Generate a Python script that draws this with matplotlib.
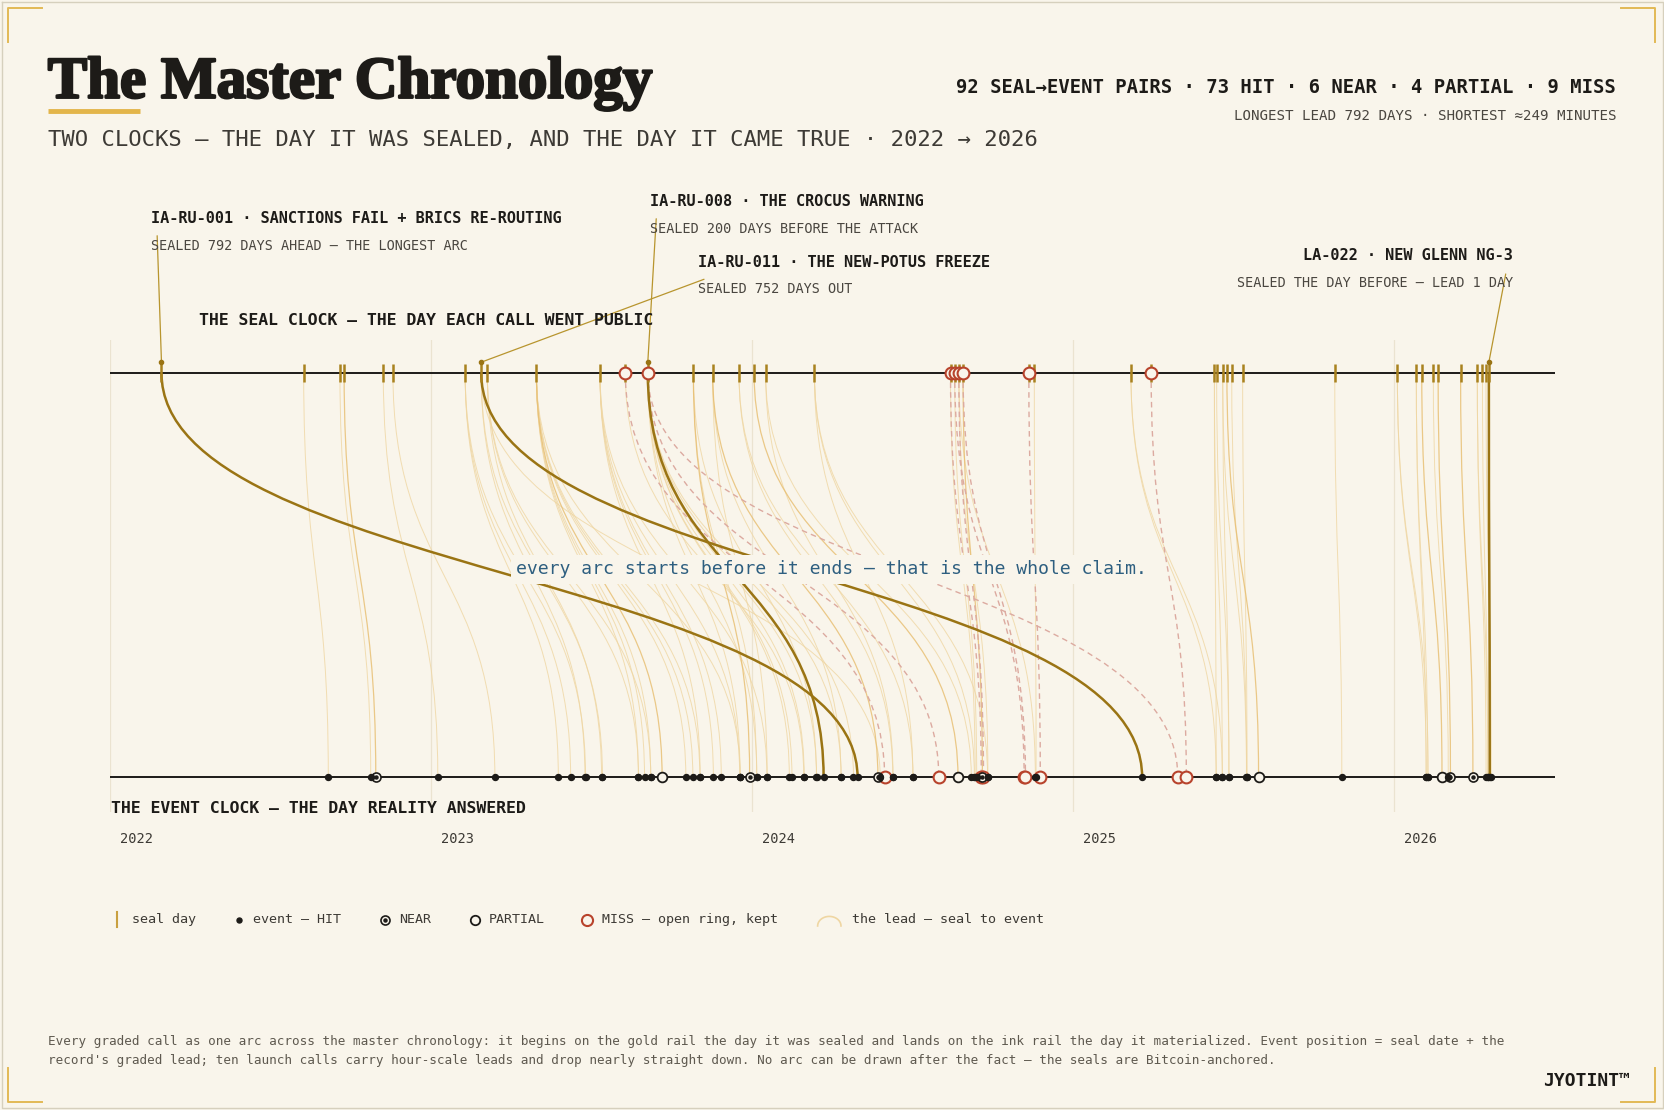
import numpy as np
import matplotlib.pyplot as plt
from matplotlib.path import Path
from matplotlib.patches import PathPatch
import matplotlib.patheffects as pe

# ---- data: one entry per seal->event pair (seal date as decimal year, graded lead in days)
seal_date = [2022.159, 2022.602, 2022.715, 2022.728, 2022.850, 2022.880,
             2023.105, 2023.105, 2023.105,
             2023.155, 2023.155, 2023.155, 2023.155,
             2023.174, 2023.174, 2023.174,
             2023.327, 2023.327, 2023.327, 2023.327, 2023.327, 2023.327, 2023.327, 2023.327,
             2023.525, 2023.525, 2023.525, 2023.525, 2023.525,
             2023.604, 2023.604,
             2023.674, 2023.674, 2023.674, 2023.674, 2023.674, 2023.674, 2023.674, 2023.674,
             2023.674, 2023.674, 2023.674,
             2023.816, 2023.816, 2023.816,
             2023.876, 2023.876, 2023.876,
             2023.958, 2023.958,
             2024.005,
             2024.041, 2024.041,
             2024.193, 2024.193, 2024.193,
             2024.617, 2024.617,
             2024.630, 2024.630,
             2024.643, 2024.643, 2024.643,
             2024.656, 2024.656,
             2024.861, 2024.878,
             2025.179, 2025.179,
             2025.242,
             2025.439, 2025.439, 2025.446, 2025.465, 2025.465, 2025.478, 2025.493, 2025.527,
             2025.814,
             2026.009, 2026.009, 2026.068, 2026.068, 2026.085, 2026.121, 2026.136, 2026.206,
             2026.258, 2026.258, 2026.274, 2026.285, 2026.294]
lead_days = [792, 28, 35, 36, 62, 116,
             106, 120, 137,
             752, 118, 454, 138,
             130, 172, 186,
             123, 130, 143, 170, 178, 232, 186, 116,
             114, 129, 138, 159, 190,
             295, 203,
             200, 161, 164, 178, 192, 220, 234, 331,
             603, 124, 105,
             64, 72, 140,
             62, 188, 146,
             175, 198,
             232,
             234, 145,
             182, 197, 112,
             35, 28,
             79, 25,
             28, 87, 33,
             71, 22,
             13, 2,
             97, 104,
             40,
             9, 2, 14, 27, 7, 36, 17, 5,
             8,
             33, 35, 13, 11, 23, 17, 14, 14,
             10, 12, 6, 6, 1]
grade = list("HHHNHH" "HHH" "HHHH" "HHH" "HHPHHHHH" "HHHHH" "MH"
             "HHHHHHHM" "MHH" "NHH" "HNH" "HH" "P" "HH" "HHH" "MH" "MH"
             "MHH" "MN" "MH" "HH" "M" "HHHHHPHH" "H" "HHHHPHNN" "HHHHH")

years = [2022, 2023, 2024, 2025, 2026]

callout_seal = [2022.159, 2023.674, 2023.155, 2026.294]
callout_lead = [792, 200, 752, 1]
callout_title = ["IA-RU-001 · SANCTIONS FAIL + BRICS RE-ROUTING",
                 "IA-RU-008 · THE CROCUS WARNING",
                 "IA-RU-011 · THE NEW-POTUS FREEZE",
                 "LA-022 · NEW GLENN NG-3"]
callout_sub = ["SEALED 792 DAYS AHEAD — THE LONGEST ARC",
               "SEALED 200 DAYS BEFORE THE ATTACK",
               "SEALED 752 DAYS OUT",
               "SEALED THE DAY BEFORE — LEAD 1 DAY"]

# ---- style
BG = "#f9f5eb"
INK = "#1d1b18"
GOLD = "#a9821f"
GOLD_DARK = "#9a7414"
ARC = "#efd6a2"
ARC_MID = "#e7bd6e"
RED = "#b8432c"
MISS_ARC = "#dcaaa0"
GRID = "#ebe3d0"
MONO = "DejaVu Sans Mono"

VW, VH = 1568.0, 1045.3


def fx(px):
    return px / VW


def fy(py):
    return 1 - py / VH


seal = np.array(seal_date)
lead = np.array(lead_days, dtype=float)
grade = np.array(grade)
event = seal + lead / 365.25

fig = plt.figure(figsize=(16.65, 11.10), dpi=100, facecolor=BG)

# decoration canvas in pixel-like coordinates
cv = fig.add_axes([0, 0, 1, 1])
cv.set_xlim(0, VW)
cv.set_ylim(VH, 0)
cv.axis("off")
cv.plot([1.5, VW - 1.5, VW - 1.5, 1.5, 1.5], [1.5, 1.5, VH - 1.5, VH - 1.5, 1.5],
        color="#d6d0bd", lw=1.0)
cc = "#e2b955"
L = 32
for x0, y0, dx, dy in [(8, 8, 1, 1), (VW - 9, 8, -1, 1), (8, VH - 8, 1, -1), (VW - 9, VH - 8, -1, -1)]:
    cv.plot([x0 + dx * L, x0, x0], [y0, y0, y0 + dy * L], color=cc, lw=1.4)

# title block
fig.text(fx(45), fy(92), "The Master Chronology", fontsize=42.5, fontweight="bold",
         family="Liberation Serif", color=INK,
         path_effects=[pe.withStroke(linewidth=1.8, foreground=INK)])
cv.plot([45, 132], [105, 105], color="#e3b54a", lw=3.5, solid_capstyle="butt")
fig.text(fx(45), fy(132), "TWO CLOCKS — THE DAY IT WAS SEALED, AND THE DAY IT CAME TRUE · 2022 → 2026",
         fontsize=16.0, family=MONO, color="#3d3a35", va="center")
n_pairs = len(seal)
stats = "%d SEAL→EVENT PAIRS · %d HIT · %d NEAR · %d PARTIAL · %d MISS" % (
    n_pairs, (grade == "H").sum(), (grade == "N").sum(), (grade == "P").sum(), (grade == "M").sum())
fig.text(fx(1522), fy(82), stats, fontsize=13.6, family=MONO, fontweight="bold",
         color=INK, ha="right", va="center")
fig.text(fx(1522), fy(109), "LONGEST LEAD %d DAYS · SHORTEST ≈249 MINUTES" % lead.max(),
         fontsize=10.15, family=MONO, color="#4a4640", ha="right", va="center")

# chart axes: x in years, event rail y=0, seal rail y=1
ax = fig.add_axes([fx(104), fy(765), fx(1464.4) - fx(104), fy(320) - fy(765)])
ax.set_xlim(2022, 2026.5)
ax.set_ylim(-(765 - 732) / 381, 1 + (351 - 320) / 381)
ax.axis("off")

for yr in years:
    ax.axvline(yr, color=GRID, lw=0.9, zorder=0)
    ax.text(yr + 9 / 302.3, -(790 - 732) / 381, str(yr), fontsize=9.8, family=MONO,
            color="#3d3a35", va="center", clip_on=False)

ax.plot([2022, 2026.5], [1, 1], color=INK, lw=1.4, zorder=4, solid_capstyle="butt")
ax.plot([2022, 2026.5], [0, 0], color=INK, lw=1.4, zorder=4, solid_capstyle="butt")


def arc(xs, xe):
    return Path([(xs, 1), (xs, 0.5), (xe, 0.5), (xe, 0)],
                [Path.MOVETO, Path.CURVE4, Path.CURVE4, Path.CURVE4])


is_callout = np.zeros(n_pairs, dtype=bool)
for cs, cl in zip(callout_seal, callout_lead):
    is_callout |= (np.isclose(seal, cs) & (lead == cl))

for i in range(n_pairs):
    p = arc(seal[i], event[i])
    if is_callout[i]:
        patch = PathPatch(p, fc="none", ec=GOLD_DARK, lw=1.8, zorder=3)
    elif grade[i] == "M":
        patch = PathPatch(p, fc="none", ec=MISS_ARC, lw=1.0, ls=(0, (4, 3)), zorder=2.6)
    elif grade[i] in ("N", "P"):
        patch = PathPatch(p, fc="none", ec=ARC_MID, lw=0.9, alpha=0.8, zorder=2.4)
    else:
        patch = PathPatch(p, fc="none", ec=ARC, lw=0.7, alpha=0.8, zorder=2.2)
    ax.add_patch(patch)

# seal rail marks
useal = np.unique(seal)
ax.vlines(useal, 1 - 0.022, 1 + 0.022, color=GOLD, lw=1.8, zorder=5)
miss_seal = np.unique(seal[grade == "M"])
ax.plot(miss_seal, np.ones(len(miss_seal)), "o", ms=8.5, mfc=BG, mec=RED, mew=1.5, zorder=6, ls="none")

# event rail marks
ev_m = event[grade == "M"]
ev_p = event[grade == "P"]
ev_n = event[grade == "N"]
ev_h = event[grade == "H"]
ax.plot(ev_m, np.zeros(len(ev_m)), "o", ms=8.5, mfc=BG, mec=RED, mew=1.5, zorder=6, ls="none")
ax.plot(ev_p, np.zeros(len(ev_p)), "o", ms=7, mfc=BG, mec=INK, mew=1.3, zorder=7, ls="none")
ax.plot(ev_n, np.zeros(len(ev_n)), "o", ms=6.5, mfc=BG, mec=INK, mew=1.2, zorder=7, ls="none")
ax.plot(ev_n, np.zeros(len(ev_n)), "o", ms=2.2, color=INK, zorder=8, ls="none")
ax.plot(ev_h, np.zeros(len(ev_h)), "o", ms=4.3, color=INK, zorder=8, ls="none")

# claim
ax.text(2022 + (783 - 104) / 302.3, (732 - 536) / 381,
        "every arc starts before it ends — that is the whole claim.",
        fontsize=13.05, family=MONO, color="#2e5f80", ha="center", va="center", zorder=3.5,
        bbox=dict(boxstyle="square,pad=0.3", fc=BG, ec="none"))

# rail labels
fig.text(fx(187), fy(302), "THE SEAL CLOCK — THE DAY EACH CALL WENT PUBLIC", fontsize=11.85,
         family=MONO, fontweight="bold", color=INK, va="center")
fig.text(fx(105), fy(761), "THE EVENT CLOCK — THE DAY REALITY ANSWERED", fontsize=11.85,
         family=MONO, fontweight="bold", color=INK, va="center")

# callouts (text position, alignment, leader start)
callout_pos = [(142, 206, "left", 148, 222),
               (612, 190, "left", 618, 206),
               (657, 247, "left", 663, 263),
               (1425, 241, "right", 1418, 258)]
for k in range(len(callout_seal)):
    tx, ty, ha, lx, ly = callout_pos[k]
    fig.text(fx(tx), fy(ty), callout_title[k], fontsize=10.95, family=MONO, fontweight="bold",
             color=INK, ha=ha, va="center")
    fig.text(fx(tx), fy(ty + 25.5), callout_sub[k], fontsize=9.75, family=MONO,
             color="#4a4640", ha=ha, va="center")
    ax.annotate("", xy=(callout_seal[k], 1.026), xycoords="data",
                xytext=(fx(lx), fy(ly)), textcoords="figure fraction",
                arrowprops=dict(arrowstyle="-", color="#b8952e", lw=0.9, shrinkA=0, shrinkB=0),
                annotation_clip=False)
    ax.plot(callout_seal[k], 1.026, "o", ms=3, color=GOLD_DARK, zorder=6, clip_on=False)

# legend
ly = 866
cv.plot([110, 110], [ly - 7, ly + 7], color="#c9a040", lw=1.5)
cv.text(124, ly, "seal day", fontsize=9.6, family=MONO, color="#3d3a35", va="center")
cv.plot(225, ly, "o", ms=3.6, color=INK)
cv.text(238, ly, "event — HIT", fontsize=9.6, family=MONO, color="#3d3a35", va="center")
cv.plot(363, ly, "o", ms=6.5, mfc=BG, mec=INK, mew=1.2)
cv.plot(363, ly, "o", ms=2.2, color=INK)
cv.text(376, ly, "NEAR", fontsize=9.6, family=MONO, color="#3d3a35", va="center")
cv.plot(447, ly, "o", ms=6.8, mfc=BG, mec=INK, mew=1.3)
cv.text(460, ly, "PARTIAL", fontsize=9.6, family=MONO, color="#3d3a35", va="center")
cv.plot(553, ly, "o", ms=8, mfc=BG, mec=RED, mew=1.5)
cv.text(567, ly, "MISS — open ring, kept", fontsize=9.6, family=MONO, color="#3d3a35", va="center")
t = np.linspace(0, np.pi, 30)
cv.plot(781 - 11 * np.cos(t), ly + 6 - 9 * np.sin(t), color=ARC, lw=1.2)
cv.text(802, ly, "the lead — seal to event", fontsize=9.6, family=MONO, color="#3d3a35", va="center")

# footer
fig.text(fx(45), fy(981), "Every graded call as one arc across the master chronology: it begins on the gold rail "
         "the day it was sealed and lands on the ink rail the day it materialized. Event position = seal date + the",
         fontsize=9.13, family=MONO, color="#5e594f", va="center")
fig.text(fx(45), fy(999), "record's graded lead; ten launch calls carry hour-scale leads and drop nearly straight "
         "down. No arc can be drawn after the fact — the seals are Bitcoin-anchored.",
         fontsize=9.13, family=MONO, color="#5e594f", va="center")
fig.text(fx(1535), fy(1018), "JYOTINT™", fontsize=13, family=MONO, fontweight="bold",
         color=INK, ha="right", va="center")

fig.savefig("out.png", dpi=100, facecolor=BG)
